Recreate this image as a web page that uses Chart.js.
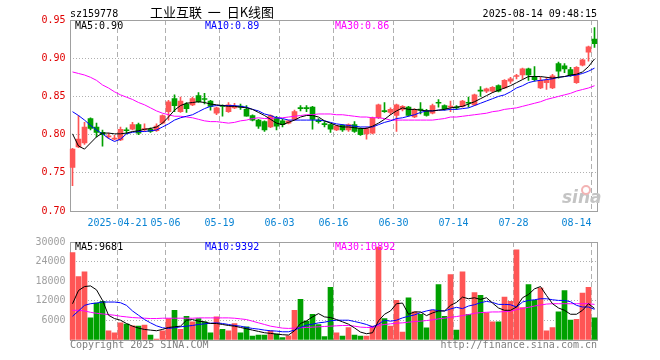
<!DOCTYPE html>
<html>
<head>
<meta charset="utf-8">
<script src="https://cdn.jsdelivr.net/npm/chart.js@4/dist/chart.umd.min.js"></script>
<style>
body{margin:0;background:#fff;width:660px;height:360px;position:relative;overflow:hidden}
canvas{position:absolute;left:0}
#top{top:0}
#bot{top:232px}
</style>
</head>
<body>
<canvas id="top" width="660" height="232"></canvas>
<canvas id="bot" width="660" height="128"></canvas>
<script>
// trading days shown (index 0..87)
const dates = ['2025-04-09','2025-04-10','2025-04-11','2025-04-14','2025-04-15','2025-04-16','2025-04-17','2025-04-18','2025-04-21','2025-04-22',
  '2025-04-23','2025-04-24','2025-04-25','2025-04-28','2025-04-29','2025-04-30','2025-05-06','2025-05-07','2025-05-08','2025-05-09',
  '2025-05-12','2025-05-13','2025-05-14','2025-05-15','2025-05-16','2025-05-19','2025-05-20','2025-05-21','2025-05-22','2025-05-23',
  '2025-05-26','2025-05-27','2025-05-28','2025-05-29','2025-05-30','2025-06-03','2025-06-04','2025-06-05','2025-06-06','2025-06-09',
  '2025-06-10','2025-06-11','2025-06-12','2025-06-13','2025-06-16','2025-06-17','2025-06-18','2025-06-19','2025-06-20','2025-06-23',
  '2025-06-24','2025-06-25','2025-06-26','2025-06-27','2025-06-30','2025-07-01','2025-07-02','2025-07-03','2025-07-04','2025-07-07',
  '2025-07-08','2025-07-09','2025-07-10','2025-07-11','2025-07-14','2025-07-15','2025-07-16','2025-07-17','2025-07-18','2025-07-21',
  '2025-07-22','2025-07-23','2025-07-24','2025-07-25','2025-07-28','2025-07-29','2025-07-30','2025-07-31','2025-08-01','2025-08-04',
  '2025-08-05','2025-08-06','2025-08-07','2025-08-08','2025-08-11','2025-08-12','2025-08-13','2025-08-14'];

const shownDates = ['2025-04-21','2025-05-06','2025-05-19','2025-06-03','2025-06-16','2025-06-30','2025-07-14','2025-07-28','2025-08-14'];

const open = [.757,.784,.789,.821,.810,.803,.797,.794,.793,.806, .807,.813,.806,.807,.805,.815,.830,.847,.830,.840,
  .839,.851,.847,.844,.828,.838,.830,.835,.837,.833, .825,.819,.817,.810,.822,.818,.815,.820,.835,.835,
  .836,.819,.814,.813,.806,.812,.806,.813,.808,.801, .802,.822,.831,.829,.825,.833,.836,.823,.833,.831,
  .828,.842,.838,.836,.836,.837,.842,.839,.858,.857, .857,.864,.861,.870,.876,.878,.886,.875,.861,.868,
  .861,.893,.890,.885,.868,.891,.908,.925];
const high = [.782,.825,.816,.822,.815,.806,.802,.799,.810,.809, .816,.815,.814,.809,.814,.826,.845,.852,.849,.842,
  .849,.855,.854,.845,.836,.839,.842,.841,.840,.838, .826,.820,.818,.826,.824,.820,.819,.832,.838,.838,
  .837,.821,.817,.814,.812,.813,.814,.817,.809,.810, .823,.840,.842,.835,.840,.838,.837,.834,.842,.833,
  .840,.846,.839,.844,.838,.845,.849,.853,.863,.861, .863,.865,.872,.875,.879,.887,.887,.889,.875,.875,
  .879,.895,.893,.888,.889,.899,.916,.940];
const low = [.733,.783,.787,.806,.797,.785,.795,.793,.792,.801, .806,.800,.804,.803,.804,.814,.819,.830,.829,.829,
  .838,.842,.840,.832,.826,.824,.829,.834,.833,.824, .818,.808,.804,.809,.806,.810,.814,.819,.831,.830,
  .807,.815,.810,.803,.805,.804,.804,.803,.799,.794, .801,.821,.829,.826,.804,.831,.824,.822,.827,.824,
  .827,.836,.832,.830,.833,.836,.836,.838,.850,.855, .855,.856,.860,.867,.873,.873,.871,.870,.860,.859,
  .860,.874,.881,.876,.867,.890,.896,.914];
const close = [.781,.794,.810,.808,.803,.800,.798,.795,.807,.805, .813,.802,.808,.804,.811,.825,.843,.838,.844,.834,
  .847,.843,.846,.837,.835,.837,.839,.837,.836,.824, .819,.811,.806,.825,.811,.813,.818,.830,.834,.834,
  .820,.817,.813,.807,.811,.806,.813,.804,.800,.808, .822,.839,.830,.833,.839,.837,.825,.833,.832,.825,
  .838,.841,.834,.837,.835,.844,.841,.852,.857,.860, .862,.857,.871,.873,.877,.886,.878,.872,.871,.871,
  .877,.883,.886,.878,.888,.898,.915,.919];

const ma5 = [.801,.785,.781,.789,.797,.802,.802,.801,.801,.802, .804,.805,.807,.808,.810,.815,.823,.832,.838,.841,
  .842,.843,.842,.840,.839,.838,.837,.837,.836,.835, .833,.829,.825,.820,.815,.813,.816,.819,.823,.825,
  .825,.823,.818,.815,.812,.810,.810,.809,.808,.808, .811,.815,.820,.826,.831,.835,.833,.833,.832,.831,
  .831,.832,.833,.835,.836,.837,.840,.843,.847,.851, .855,.858,.861,.864,.868,.872,.876,.876,.876,.875,
  .874,.875,.876,.878,.879,.882,.889,.899];
const ma10 = [.830,.825,.819,.812,.806,.801,.795,.791,.794,.801, .803,.804,.804,.805,.806,.810,.814,.819,.822,.824,
  .826,.830,.834,.837,.838,.838,.838,.838,.837,.836, .833,.831,.827,.825,.822,.821,.819,.819,.819,.819,
  .819,.819,.818,.816,.814,.813,.812,.811,.810,.810, .810,.813,.816,.818,.821,.822,.824,.826,.829,.831,
  .831,.832,.832,.833,.833,.834,.835,.838,.841,.844, .847,.850,.852,.856,.861,.864,.868,.870,.871,.872,
  .873,.875,.876,.877,.878,.880,.883,.887];
const ma30 = [.882,.880,.878,.875,.871,.865,.861,.856,.852,.849, .846,.842,.839,.835,.831,.828,.826,.824,.824,.823,
  .822,.820,.818,.817,.817,.816,.815,.816,.818,.819, .821,.822,.821,.821,.822,.822,.823,.824,.825,.826,
  .826,.827,.827,.827,.826,.826,.825,.824,.823,.823, .822,.822,.821,.819,.819,.819,.819,.819,.819,.819,
  .819,.820,.821,.823,.823,.824,.825,.826,.827,.828, .830,.831,.833,.834,.835,.837,.839,.841,.843,.846,
  .848,.850,.852,.854,.857,.859,.861,.864];

const volume = [26750,19400,20900,6770,11300,11800,2830,2220,5250,4850, 4340,4240,4550,1520,300,2830,6570,9090,3230,7270,
  5560,6570,5560,2220,7070,3230,2830,5050,2220,4040, 1210,1520,1520,2830,1820,710,1310,9090,12420,5760,
  7880,4750,1010,16160,2220,1210,3840,1520,1210,1210, 4240,28480,6570,4240,12120,2420,12930,8590,7880,3740,
  9090,16970,7270,20000,3030,20900,7880,14540,13640,8280, 5560,5560,13130,11820,27570,9900,16970,12120,15860,2830,
  3840,8590,15150,6060,6360,14340,16160,6760];
const volMa5 = [11100,15150,16360,16560,15350,12120,7580,6560,6060,5050, 4240,3640,3230,3030,2830,3230,3840,4040,4240,6060,
  6260,5760,5560,5050,5050,4750,4440,4240,3840,3440, 3030,2630,2220,2020,1820,1620,1520,2830,5050,5860,
  7070,8080,7070,6870,6260,5560,4850,3700,2420,1920, 2220,5860,7880,8890,11110,11310,7880,8590,8590,7470,
  8280,8890,8890,10600,11510,13130,12630,12930,12420,12930, 11310,9800,9090,9090,10100,12930,13940,15660,16360,13640,
  11110,9800,9090,7880,7880,9090,11110,9681];
const volMa10 = [7270,8890,10600,11110,11310,11620,11620,11620,11410,10600, 8890,7580,6260,5250,4340,3740,3540,3740,4040,4240,
  4440,4750,4950,5150,5250,5050,4750,4440,4240,3840, 3540,3330,3030,2830,2730,2520,2520,3030,3840,4550,
  4850,5250,5450,5860,6060,6060,6060,5660,5250,4750, 4040,4850,6060,5760,6060,6770,7270,7680,8380,8890,
  9290,8990,8890,9500,10000,9600,10400,10800,11410,11820, 11510,10900,10900,10800,10100,11620,12120,12320,12630,12630,
  12320,12120,12120,11720,10600,10100,10100,9392];
const volMa30 = [9090,9090,8890,8480,8180,7980,7780,7580,7270,7070, 6870,6770,6670,6570,6570,6670,6670,6670,6670,6670,
  6670,6770,6770,6770,6770,6770,6770,6670,6470,6260, 5760,5250,4750,4240,3940,3640,3540,3640,3740,3840,
  3940,4040,4140,4240,4340,4440,4440,4240,3940,3840, 3840,4440,4750,4950,5150,5250,5450,5660,5760,5960,
  6160,6470,6670,6970,7170,7480,7780,8180,8380,8480, 8590,8590,8690,8790,9290,9700,10000,10400,10700,11000,
  11110,11110,11110,11110,11110,11110,11110,10892];

const priceTicks = [0.70, 0.75, 0.80, 0.85, 0.90, 0.95];
const volTicks = [0, 6000, 12000, 18000, 24000, 30000];

const RED = '#ff5555', GREEN = '#00a000';
const MONO = '"DejaVu Sans Mono", monospace';
const colors = close.map((c, i) => c >= open[i] ? RED : GREEN);
const last = dates.length - 1;
const tickIdx = shownDates.map(d => dates.indexOf(d));

const xy = arr => arr.map((v, i) => ({x: i + 0.5, y: v}));
const maLine = (arr, color) => ({type: 'line', data: xy(arr), borderColor: color, borderWidth: 1,
  pointRadius: 0, tension: 0, order: 0});

const frame = {
  id: 'frame',
  beforeDatasetsDraw(chart) {
    const {ctx, chartArea: a} = chart;
    ctx.save();
    ctx.strokeStyle = '#a0a0a0';
    ctx.lineWidth = 1;
    const l = Math.ceil(a.left) + 0.5, r = Math.floor(a.right) + 0.5;
    const t = Math.round(a.top) + 0.5, b = Math.round(a.bottom) + 0.5;
    ctx.strokeRect(l, t, r - l, b - t);
    ctx.restore();
  }
};

function xScale(showLabels) {
  return {
    type: 'linear', min: 0, max: dates.length, offset: false,
    afterBuildTicks: s => { s.ticks = tickIdx.map(v => ({value: v})); },
    afterFit: s => { s.height = showLabels ? 21 : 20; },
    grid: {color: '#b0b0b0', drawTicks: false, offset: false},
    border: {display: false, dash: [5, 3]},
    ticks: {
      display: showLabels, padding: 6, color: '#0a84d4', maxRotation: 0, autoSkip: false,
      font: {family: MONO, size: 10},
      callback: (v, k) => {
        const d = dates[v];
        if (k === 0) return d;
        if (v === last) return d.slice(5) + '     ';
        return d.slice(5);
      }
    }
  };
}

function yScale(min, max, ticks, color, fmt) {
  return {
    min: min, max: max,
    afterBuildTicks: s => { s.ticks = ticks.map(v => ({value: v})); },
    afterFit: s => { s.width = 69.5; },
    grid: {drawTicks: false,
      color: c => (c.index === 0 || c.index === ticks.length - 1) ? 'rgba(0,0,0,0)' : '#b0b0b0'},
    border: {display: false, dash: [1, 2]},
    ticks: {color: color, padding: 4, font: {family: MONO, size: 10}, callback: fmt}
  };
}

const common = {
  responsive: false, animation: false,
  plugins: {legend: {display: false}, tooltip: {enabled: false}},
  datasets: {bar: {grouped: false, borderWidth: 0}}
};

// price panel
new Chart(document.getElementById('top'), {
  type: 'bar',
  data: {datasets: [
    maLine(ma5, '#000000'),
    maLine(ma10, '#0000ff'),
    maLine(ma30, '#ff00ff'),
    {data: close.map((c, i) => ({x: i + 0.5, y: [open[i], c]})), backgroundColor: colors,
      barThickness: 5, minBarLength: 1, order: 1},
    {data: close.map((c, i) => ({x: i + 0.5, y: [low[i], high[i]]})), backgroundColor: colors,
      barThickness: 1, minBarLength: 1, order: 2}
  ]},
  options: Object.assign({}, common, {
    layout: {padding: {top: 20, right: 62.5, left: 0, bottom: 0}},
    scales: {
      x: xScale(true),
      y: yScale(0.70, 0.95, priceTicks, '#e00000', v => v.toFixed(2))
    }
  }),
  plugins: [frame, {
    id: 'texts',
    beforeDatasetsDraw(chart) {
      const ctx = chart.ctx;
      ctx.save();
      // watermark
      ctx.font = 'italic bold 17px "DejaVu Sans", sans-serif';
      ctx.fillStyle = '#c4c4c4';
      ctx.fillText('sina', 562, 203);
      ctx.strokeStyle = '#f3b4b4';
      ctx.lineWidth = 2;
      ctx.beginPath();
      ctx.arc(586, 190, 4, 0, Math.PI * 2);
      ctx.stroke();
      ctx.restore();
    },
    afterDraw(chart) {
      const ctx = chart.ctx;
      ctx.save();
      ctx.textBaseline = 'alphabetic';
      ctx.font = '10px ' + MONO;
      ctx.fillStyle = '#000';
      ctx.textAlign = 'left';
      ctx.fillText('sz159778', 70, 17);
      ctx.textAlign = 'right';
      ctx.fillText('2025-08-14 09:48:15', 597, 17);
      ctx.textAlign = 'left';
      ctx.font = '13px "Noto Sans CJK SC", sans-serif';
      ctx.fillText('工业互联  一  日K线图', 150, 16.5);
      ctx.font = '10px ' + MONO;
      ctx.fillStyle = '#000000';
      ctx.fillText('MA5:' + ma5[last].toFixed(2), 75, 29);
      ctx.fillStyle = '#0000ff';
      ctx.fillText('MA10:' + ma10[last].toFixed(2), 205, 29);
      ctx.fillStyle = '#ff00ff';
      ctx.fillText('MA30:' + ma30[last].toFixed(2), 335, 29);
      ctx.restore();
    }
  }]
});

// volume panel
new Chart(document.getElementById('bot'), {
  type: 'bar',
  data: {datasets: [
    maLine(volMa5, '#000000'),
    maLine(volMa10, '#0000ff'),
    maLine(volMa30, '#ff00ff'),
    {data: xy(volume), backgroundColor: colors, barThickness: 5, order: 1}
  ]},
  options: Object.assign({}, common, {
    layout: {padding: {top: 9, right: 62.5, left: 0, bottom: 0}},
    scales: {
      x: xScale(false),
      y: yScale(0, 30000, volTicks, '#a0a0a0', v => v === 0 ? '' : String(v))
    }
  }),
  plugins: [frame, {
    id: 'texts',
    afterDraw(chart) {
      const ctx = chart.ctx;
      ctx.save();
      ctx.font = '10px ' + MONO;
      ctx.textAlign = 'left';
      ctx.fillStyle = '#000000';
      ctx.fillText('MA5:' + volMa5[last], 75, 18);
      ctx.fillStyle = '#0000ff';
      ctx.fillText('MA10:' + volMa10[last], 205, 18);
      ctx.fillStyle = '#ff00ff';
      ctx.fillText('MA30:' + volMa30[last], 335, 18);
      ctx.fillStyle = '#808080';
      ctx.fillText('Copyright 2025 SINA.COM', 70, 116);
      ctx.textAlign = 'right';
      ctx.fillText('http://finance.sina.com.cn', 597, 116);
      ctx.restore();
    }
  }]
});
</script>
</body>
</html>
